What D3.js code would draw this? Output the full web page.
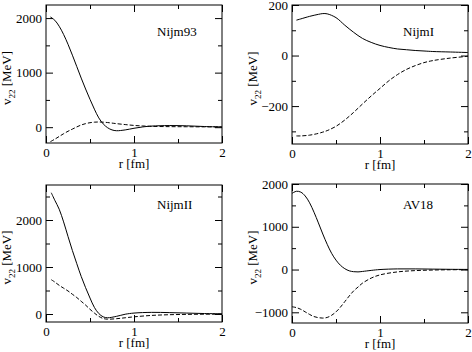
<!DOCTYPE html>
<html lang="en">
<head>
<meta charset="UTF-8">
<title>v22 potentials</title>
<script src="https://cdn.jsdelivr.net/npm/d3@7"></script>
<style>
    body { margin: 0; background: #fff; }
    text { font-family: "Liberation Serif", "DejaVu Serif", serif; fill: #000; }
</style>
</head>
<body>
<div id="chart"></div>
<script>
// Nijm93
const r93 = [0.05, 0.1, 0.15, 0.2, 0.25, 0.3, 0.35, 0.4, 0.45, 0.5, 0.55, 0.6, 0.65, 0.7, 0.75, 0.8, 0.9, 1.0, 1.1, 1.2, 1.4, 1.6, 1.8, 2.0];
const solid93 = [2020, 1960, 1850, 1700, 1520, 1320, 1110, 900, 700, 510, 330, 170, 60, -10, -50, -65, -50, -20, 5, 20, 30, 25, 12, 5];
const dash93 = [-265, -220, -170, -120, -75, -35, 5, 40, 65, 82, 92, 95, 92, 85, 75, 65, 48, 32, 22, 15, 10, 8, 6, 5];

// NijmI
const rI = [0.05, 0.1, 0.2, 0.3, 0.35, 0.4, 0.5, 0.6, 0.7, 0.8, 0.9, 1.0, 1.1, 1.2, 1.3, 1.4, 1.5, 1.6, 1.8, 2.0];
const solidI = [140, 145, 155, 163, 166, 165, 150, 120, 92, 68, 52, 40, 32, 26, 23, 20, 18, 16, 14, 12];
const dashI = [-318, -318, -315, -308, -303, -297, -280, -255, -225, -192, -160, -130, -100, -75, -55, -40, -28, -20, -10, -3];

// NijmII
const rII = [0.06, 0.1, 0.15, 0.2, 0.25, 0.3, 0.35, 0.4, 0.45, 0.5, 0.55, 0.6, 0.65, 0.7, 0.8, 0.9, 1.0, 1.2, 1.4, 1.6, 1.8, 2.0];
const solidII = [2580, 2420, 2230, 1960, 1650, 1350, 1070, 800, 560, 340, 140, 10, -60, -80, -50, -5, 20, 35, 30, 20, 10, 5];
const dashII = [730, 680, 610, 550, 490, 420, 350, 270, 190, 100, 20, -50, -95, -110, -100, -80, -60, -30, -15, -8, -4, -2];

// AV18
const rAV = [0.0, 0.05, 0.1, 0.15, 0.2, 0.25, 0.3, 0.35, 0.4, 0.45, 0.5, 0.55, 0.6, 0.65, 0.7, 0.75, 0.8, 0.9, 1.0, 1.2, 1.4, 1.6, 1.8, 2.0];
const solidAV = [1780, 1830, 1810, 1720, 1560, 1340, 1090, 830, 590, 380, 220, 100, 20, -30, -50, -55, -45, -20, 0, 15, 15, 10, 5, 3];
const dashAV = [-870, -890, -930, -990, -1050, -1100, -1125, -1135, -1120, -1070, -990, -880, -750, -620, -500, -410, -320, -200, -125, -55, -25, -12, -5, -2];

const xTicks = [0, 1, 2];
const xMinor = [0.5, 1.5];

const panels = [
    { name: "Nijm93", r: r93, solid: solid93, dash: dash93, box: [46, 5, 222, 143], yDom: [-290, 2240], yMajor: [0, 1000, 2000], yMinor: [500, 1500], title: [157, 36] },
    { name: "NijmI", r: rI, solid: solidI, dash: dashI, box: [292, 5, 468, 144], yDom: [-350, 200], yMajor: [-200, 0, 200], yMinor: [-300, -100, 100], title: [403, 36] },
    { name: "NijmII", r: rII, solid: solidII, dash: dashII, box: [46, 185, 222, 322], yDom: [-170, 2745], yMajor: [0, 1000, 2000], yMinor: [500, 1500, 2500], title: [157, 209] },
    { name: "AV18", r: rAV, solid: solidAV, dash: dashAV, box: [292, 184, 468, 323], yDom: [-1250, 2000], yMajor: [-1000, 0, 1000, 2000], yMinor: [-500, 500, 1500], title: [403, 209] }
];

let svg = d3.select("#chart").append("svg")
    .attr("width", 472)
    .attr("height", 352);

panels.forEach(p => {
    let [x0, y0, x1, y1] = p.box;
    let x = d3.scaleLinear().domain([0, 2]).range([x0, x1]);
    let y = d3.scaleLinear().domain(p.yDom).range([y1, y0]);
    let g = svg.append("g");

    // ticks point inward, on all four sides
    let majLen = 7, minLen = 4;
    let addAxis = (axis, tx, ty) => g.append("g")
        .attr("transform", "translate(" + tx + "," + ty + ")")
        .call(axis.tickSizeOuter(0));

    addAxis(d3.axisBottom(x).tickValues(xTicks).tickSizeInner(-majLen).tickPadding(5).tickFormat(d3.format("d")), 0, y1);
    addAxis(d3.axisBottom(x).tickValues(xMinor).tickSizeInner(-minLen).tickFormat(""), 0, y1);
    addAxis(d3.axisTop(x).tickValues(xTicks).tickSizeInner(-majLen).tickFormat(""), 0, y0);
    addAxis(d3.axisTop(x).tickValues(xMinor).tickSizeInner(-minLen).tickFormat(""), 0, y0);
    addAxis(d3.axisLeft(y).tickValues(p.yMajor).tickSizeInner(-majLen).tickPadding(4).tickFormat(d3.format("d")), x0, 0);
    addAxis(d3.axisLeft(y).tickValues(p.yMinor).tickSizeInner(-minLen).tickFormat(""), x0, 0);
    addAxis(d3.axisRight(y).tickValues(p.yMajor).tickSizeInner(-majLen).tickFormat(""), x1, 0);
    addAxis(d3.axisRight(y).tickValues(p.yMinor).tickSizeInner(-minLen).tickFormat(""), x1, 0);

    g.selectAll(".domain").remove();
    g.selectAll("g").attr("font-family", "Liberation Serif").attr("font-size", 13);
    g.selectAll(".tick line").attr("stroke", "#000");

    g.append("rect")
        .attr("x", x0).attr("y", y0)
        .attr("width", x1 - x0).attr("height", y1 - y0)
        .attr("fill", "none").attr("stroke", "#000").attr("stroke-width", 1);

    let line = d3.line().curve(d3.curveCatmullRom.alpha(0.5));
    let pts = (vals) => p.r.map((r, i) => [x(r), y(vals[i])]);

    g.append("path").attr("d", line(pts(p.solid)))
        .attr("fill", "none").attr("stroke", "#000").attr("stroke-width", 1);
    g.append("path").attr("d", line(pts(p.dash)))
        .attr("fill", "none").attr("stroke", "#000").attr("stroke-width", 1)
        .attr("stroke-dasharray", "4,2");

    g.append("text").attr("x", p.title[0]).attr("y", p.title[1])
        .style("font-size", "13px").text(p.name);

    // axis titles
    g.append("text")
        .attr("x", (x0 + x1) / 2).attr("y", y1 + 25)
        .attr("text-anchor", "middle").style("font-size", "13px")
        .text("r [fm]");
    let ylab = g.append("text")
        .attr("transform", "translate(" + (x0 - 35) + "," + ((y0 + y1) / 2 + 4) + ") rotate(-90)")
        .attr("text-anchor", "middle").style("font-size", "13px");
    ylab.append("tspan").text("v");
    ylab.append("tspan").attr("dy", 4).style("font-size", "9px").text("22");
    ylab.append("tspan").attr("dy", -4).text(" [MeV]");
});
</script>
</body>
</html>
